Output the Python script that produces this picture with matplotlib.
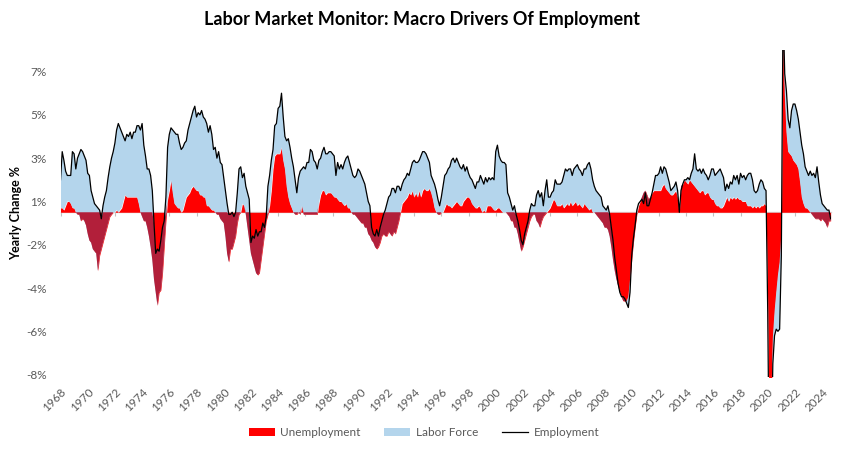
import numpy as np
import matplotlib
matplotlib.use("Agg")
import matplotlib.pyplot as plt
from matplotlib.ticker import FuncFormatter

plt.rcParams['font.family'] = ['Lato', 'DejaVu Sans']

# yearly change %, one reading every 1.5 months from Jan 1968
START_YEAR = 1968
STEP = 0.125

employment = [
    1.5, 2.8, 2.4, 1.9, 1.7, 1.7, 1.7, 2.8, 2.7, 2.0, 2.5, 2.7, 2.9, 2.8, 2.6, 2.4, 1.8, 1.7, 1.0, 0.7,
    0.4, 0.3, 0.2, 0.1, -0.3, 0.3, 0.7, 1.0, 1.6, 2.1, 2.5, 2.8, 3.2, 3.8, 4.1, 3.9, 3.7, 3.5, 3.3, 3.6,
    3.5, 3.7, 3.4, 3.7, 3.7, 4.0, 4.0, 3.8, 4.1, 3.1, 2.6, 2.0, 2.0, 1.7, 1.0, -0.5,
    -1.9, -1.7, -1.8, -1.3, -0.7, -0.4, 0.7, 3.0, 3.6, 3.9, 3.8, 3.7, 3.6, 3.6, 3.2, 2.9, 3.0, 3.2, 3.3, 3.8,
    4.1, 4.4, 4.7, 4.9, 4.4, 4.6, 4.5, 4.7, 4.4, 4.3, 4.1, 3.7, 4.0, 3.6, 2.9, 3.0, 2.5, 2.8, 2.3, 2.2,
    1.6, 1.0, 0.4, -0.1, -0.1, 0.0, -0.2, 0.0, 0.9, 2.0, 2.1, 1.6, 1.8, 1.2, 0.9, 0.6,
    -1.4, -1.1, -1.2, -0.8, -1.1, -0.9, -0.9, -0.5, -0.7, -0.2, 1.2, 1.7, 2.4, 2.9, 4.0, 4.1, 4.8, 4.9, 5.5, 4.4,
    3.5, 3.3, 3.4, 3.0, 2.5, 2.1, 1.5, 0.9, 1.6, 1.9, 2.0, 2.1, 2.0, 2.3, 2.3, 2.9, 2.8, 2.4, 2.3, 2.0,
    2.4, 2.5, 2.8, 3.0, 2.7, 2.7, 2.8, 2.8, 2.7, 2.6, 1.7, 2.3, 2.0, 2.2, 2.0, 2.3,
    2.5, 2.6, 2.3, 2.0, 1.7, 1.6, 1.7, 2.0, 1.9, 1.7, 1.5, 1.3, 0.9, 0.5, 0.3, -0.7, -1.0, -1.1, -0.8, -1.1,
    -0.7, -0.4, -0.1, 0.1, 0.4, 0.7, 0.8, 1.1, 1.1, 0.9, 1.2, 1.2, 1.0, 1.3, 1.5, 1.6, 1.8, 1.7, 2.0, 2.3,
    2.4, 2.3, 2.3, 2.4, 2.6, 2.8, 2.8, 2.7, 2.5, 2.3, 1.7, 1.5, 1.3, 1.0, 0.6, 0.3,
    0.7, 1.2, 1.7, 1.8, 2.0, 2.1, 2.4, 2.5, 2.3, 2.5, 2.3, 2.1, 2.0, 2.2, 1.9, 2.1, 1.8, 1.6, 1.5, 1.3,
    1.1, 1.4, 1.4, 1.7, 1.5, 1.3, 1.6, 1.4, 1.6, 1.5, 1.6, 1.5, 2.8, 3.1, 2.6, 2.4, 2.3, 2.3, 2.2, 0.9,
    0.7, 0.4, 0.1, 0.3, -0.1, -0.4, -0.8, -1.3, -1.5, -1.0, -0.7, -0.4, 0.1, 0.4, 0.3, 0.3,
    0.8, 1.0, 0.7, 0.9, 0.3, 1.0, 1.5, 0.7, 0.7, 0.9, 1.0, 1.5, 1.3, 1.3, 1.3, 1.4, 1.7, 2.0, 1.9, 2.0,
    2.0, 1.7, 2.0, 2.1, 2.2, 2.0, 1.9, 1.7, 2.0, 2.0, 2.2, 2.3, 2.0, 1.5, 1.2, 1.0, 0.9, 0.8, 0.7, 0.3,
    0.2, 0.1, 0.3, -0.1, -0.7, -1.3, -2.1, -2.7, -3.3, -3.7, -3.9, -3.9, -4.0, -4.2, -4.4, -3.7,
    -2.0, -1.2, -0.6, 0.1, 0.4, 0.5, 0.6, 0.4, 0.9, 0.3, 0.3, 0.6, 0.9, 1.3, 1.7, 1.7, 1.8, 2.1, 1.8, 2.1,
    2.0, 1.7, 1.4, 1.0, 1.1, 1.2, 1.4, 1.0, 0.0, 1.0, 1.3, 1.5, 1.5, 1.6, 1.5, 1.8, 2.0, 2.7, 2.0, 1.9,
    2.0, 1.8, 2.0, 1.8, 1.7, 1.5, 1.7, 2.0, 2.0, 1.7, 1.8, 1.9, 2.0, 1.8, 1.6,
    1.0, 1.3, 1.1, 1.4, 1.3, 1.7, 1.5, 1.7, 1.3, 1.8, 1.6, 1.7, 1.5, 1.7, 1.8, 1.8, 1.5, 1.0, 0.9, 1.0,
    1.3, 1.5, 1.4, 1.1, 1.0, -4.6, -13.0, -11.5, -7.0, -5.7, -5.4, -5.5, -5.4, -2.0, 9.5, 6.4, 5.6, 4.3, 3.9, 4.7,
    5.0, 5.0, 4.7, 4.3, 3.7, 3.1, 2.7, 2.1, 1.9, 1.7, 1.9, 1.7, 1.8, 1.6, 2.1, 1.4, 0.8, 0.4, 0.3, 0.2,
    0.1, 0.1, -0.3,
]

unemployment = [
    0.2, 0.2, 0.1, 0.3, 0.5, 0.5, 0.4, 0.2, 0.2, 0.0, -0.1, -0.1, -0.4, -0.3, -0.4, -0.6, -1.0, -1.3, -1.4, -1.7,
    -1.8, -1.9, -2.7, -2.0, -1.7, -1.4, -1.1, -0.8, -0.5, -0.2, -0.1, 0.0, 0.0, 0.1, 0.0, 0.1, 0.2, 0.5, 0.8, 0.7,
    0.7, 0.7, 0.7, 0.7, 0.7, 0.7, 0.4, 0.0, -0.2, -0.4, -0.4, -0.7, -1.1, -1.6, -2.2, -3.1,
    -3.7, -4.3, -3.7, -3.6, -2.8, -1.6, -0.4, 0.6, 1.0, 1.5, 0.9, 0.4, 0.3, 0.2, 0.2, 0.0, 0.1, 0.4, 0.7, 0.8,
    0.9, 1.1, 1.2, 1.1, 1.0, 1.0, 0.8, 0.8, 0.7, 0.7, 0.3, 0.3, 0.2, 0.1, 0.1, 0.0, -0.1, -0.1, -0.3, -0.4,
    -0.5, -1.1, -1.9, -2.3, -1.7, -1.7, -1.4, -1.1, -0.5, -0.1, 0.0, 0.4, 0.3, -0.1, -0.7, -1.3,
    -1.9, -2.2, -2.5, -2.8, -2.9, -2.8, -2.2, -1.6, -1.0, -0.4, -0.1, 0.3, 1.0, 2.0, 2.6, 2.7, 2.7, 2.7, 3.0, 2.4,
    2.0, 1.2, 0.7, 0.4, 0.2, 0.0, -0.1, -0.1, 0.0, -0.1, 0.3, -0.1, -0.1, -0.1, -0.1, -0.1, -0.1, -0.1, -0.1, -0.1,
    0.4, 0.8, 1.0, 1.0, 0.8, 0.9, 0.9, 0.9, 0.8, 0.7, 0.7, 0.6, 0.5, 0.5, 0.4, 0.3,
    0.4, 0.2, 0.2, 0.0, -0.1, -0.1, -0.2, -0.3, -0.4, -0.5, -0.5, -0.7, -0.7, -1.0, -1.1, -1.3, -1.4, -1.6, -1.7, -1.6,
    -1.4, -1.1, -1.0, -1.1, -1.1, -0.9, -1.0, -1.1, -0.9, -1.0, -0.7, -0.4, 0.0, 0.4, 0.5, 0.6, 0.7, 0.9, 0.8, 1.0,
    0.7, 0.9, 0.7, 1.0, 0.7, 1.0, 1.1, 1.0, 1.0, 1.1, 0.9, 0.6, 0.2, 0.0, -0.1, -0.1,
    0.0, 0.0, 0.2, 0.4, 0.3, 0.3, 0.2, 0.3, 0.4, 0.5, 0.4, 0.3, 0.3, 0.5, 0.6, 0.7, 0.7, 0.6, 0.4, 0.3,
    0.2, 0.2, 0.3, 0.2, 0.0, 0.1, 0.0, 0.3, 0.3, 0.3, 0.2, 0.1, 0.1, 0.2, 0.2, 0.1, 0.0, 0.0, 0.0, -0.1,
    -0.2, -0.4, -0.4, -0.7, -0.7, -1.0, -1.4, -1.8, -1.6, -1.3, -1.0, -0.7, -0.4, -0.2, -0.1, -0.1,
    -0.4, -0.5, -0.7, -0.4, -0.2, -0.1, 0.0, 0.1, 0.2, 0.4, 0.6, 0.5, 0.3, 0.3, 0.3, 0.4, 0.2, 0.3, 0.4, 0.3,
    0.5, 0.3, 0.4, 0.5, 0.3, 0.4, 0.3, 0.2, 0.4, 0.3, 0.2, 0.1, 0.2, 0.0, 0.0, -0.1, -0.2, -0.3, -0.4, -0.5,
    -0.7, -0.7, -0.8, -1.1, -1.6, -2.2, -2.7, -3.1, -3.4, -3.7, -3.9, -4.1, -4.1, -4.1, -3.9, -3.1,
    -2.2, -1.4, -0.7, -0.1, 0.3, 0.5, 0.7, 0.9, 1.0, 0.8, 0.6, 0.7, 0.9, 1.0, 1.0, 1.0, 1.0, 1.0, 1.2, 1.3,
    1.1, 1.0, 0.9, 0.8, 0.8, 0.9, 1.0, 0.7, 0.0, 1.2, 1.3, 1.5, 1.4, 1.3, 1.5, 1.4, 1.3, 1.2, 1.1, 1.0,
    0.9, 1.0, 1.0, 0.8, 0.9, 0.9, 0.7, 0.6, 0.6, 0.4, 0.3, 0.3, 0.2, 0.2, 0.3,
    0.5, 0.7, 0.5, 0.7, 0.6, 0.7, 0.6, 0.7, 0.6, 0.6, 0.5, 0.5, 0.5, 0.3, 0.3, 0.3, 0.2, 0.3, 0.2, 0.3,
    0.2, 0.3, 0.3, 0.4, 0.3, -4.3, -11.0, -9.0, -5.8, -4.6, -3.7, -2.9, -2.3, -1.0, 8.5, 5.5, 3.7, 2.8, 2.7, 2.6,
    2.4, 2.3, 2.2, 2.0, 1.4, 0.7, 0.4, 0.2, 0.2, 0.1, 0.0, -0.1, -0.2, -0.3, -0.3, -0.3, -0.4, -0.3, -0.4, -0.5,
    -0.7, -0.4, -0.4,
]

tick_years = list(range(1968, 2025, 2))

RED = '#FF0000'
BLUE = '#B4D5EC'
DARK = '#B21F3A'
GREY = '#595959'

emp = np.array(employment)
unemp = np.array(unemployment)
years = START_YEAR + STEP * np.arange(len(emp))

fig = plt.figure(figsize=(8.45, 4.5), dpi=100)
ax = fig.add_axes([0.0716, 0.1627, 0.9114, 0.7264])

# stacked: unemployment from 0, labor force on top of it up to employment
ax.fill_between(years, 0, unemp, color=RED, lw=0, label='Unemployment')
ax.fill_between(years, unemp, emp, color=BLUE, lw=0, label='Labor Force')
# where both areas overlap the colours darken
lo = np.maximum(np.minimum(0, unemp), np.minimum(unemp, emp))
hi = np.minimum(np.maximum(0, unemp), np.maximum(unemp, emp))
ax.fill_between(years, lo, hi, where=hi > lo, interpolate=True, color=DARK, lw=0)
ax.plot(years, emp, color='black', lw=0.9, label='Employment')

ax.set_xlim(years[0], years[-1])
ax.set_ylim(-7.6, 7.5)
for s in ax.spines.values():
    s.set_visible(False)

# zero line with small year ticks, like the category axis crossing at 0
sec = ax.secondary_xaxis(0, transform=ax.transData)
sec.set_xticks(tick_years)
sec.tick_params(axis='x', length=3, width=0.8, color='#BFBFBF', labelbottom=False)
sec.spines['bottom'].set_color('#D9D9D9')
sec.spines['bottom'].set_linewidth(1.0)

ax.set_xticks(tick_years)
ax.set_xticklabels([str(y) for y in tick_years], rotation=45, ha='right',
                   va='top', rotation_mode='anchor')
ax.tick_params(axis='x', length=0, pad=7, labelsize=8.5, labelcolor=GREY)

ax.set_yticks(np.arange(-7.5, 7.0, 2.0))
ax.yaxis.set_major_formatter(FuncFormatter(
    lambda v, p: f"{int(np.sign(v) * np.floor(abs(v) + 0.5))}%"))
ax.tick_params(axis='y', length=0, pad=10, labelsize=8.5, labelcolor=GREY)

ax.set_ylabel('Yearly Change %', fontsize=9, fontweight='bold')
ax.yaxis.set_label_coords(-0.050, 0.5)

fig.suptitle('Labor Market Monitor: Macro Drivers Of Employment',
             x=0.5, y=0.975, fontsize=13, fontweight='bold')

handles, labels = ax.get_legend_handles_labels()
fig.legend(handles, labels, loc='center', bbox_to_anchor=(0.502, 0.038), ncol=3,
           frameon=False, fontsize=8.5, labelcolor=GREY, handlelength=2.2,
           handleheight=0.6, handletextpad=0.5, columnspacing=2.0)

fig.savefig('out.png', dpi=100)
